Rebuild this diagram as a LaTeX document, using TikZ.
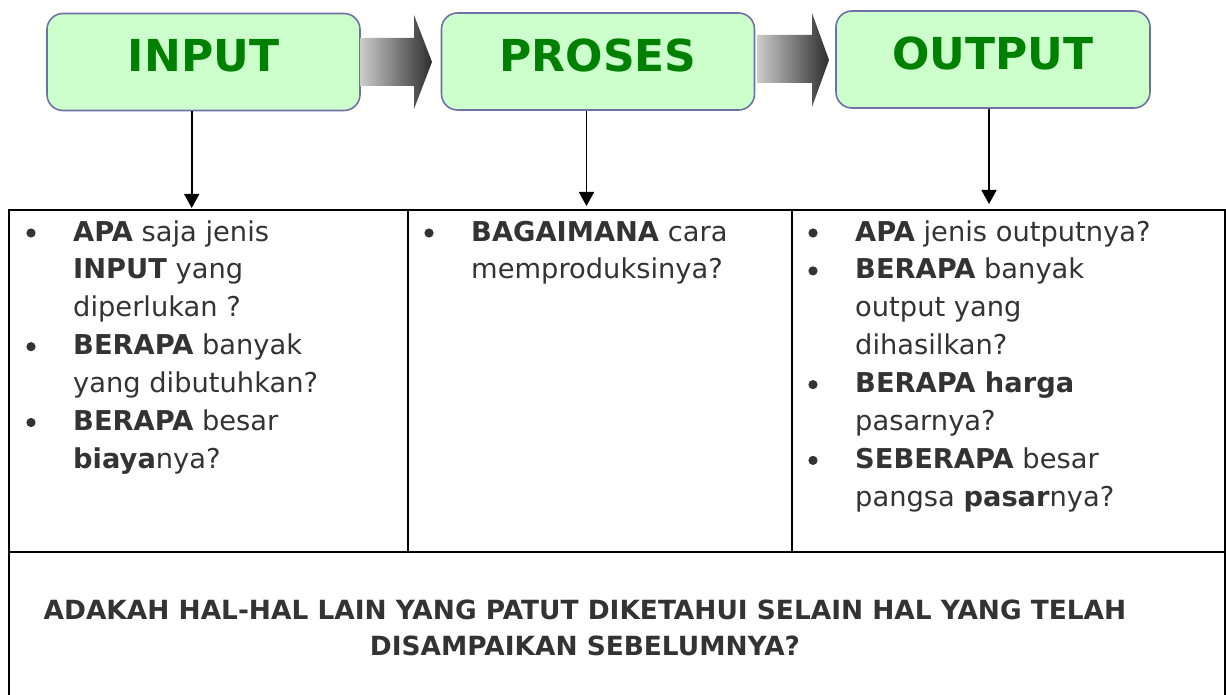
\documentclass[tikz,border=0pt]{standalone}
\usepackage{fontspec}
\setmainfont{DejaVu Sans}
\usetikzlibrary{arrows.meta}
\definecolor{boxfill}{HTML}{CCFFCC}
\definecolor{boxdraw}{HTML}{7070A8}
\definecolor{titlegreen}{HTML}{008000}
\definecolor{txt}{HTML}{333333}
\begin{document}
\begin{tikzpicture}[x=1pt,y=-1pt,
  stage/.style={draw=boxdraw, line width=1.6pt, fill=boxfill, rounded corners=16pt,
    minimum width=313pt, minimum height=97pt, inner sep=0pt},
  title/.style={font=\fontsize{44}{44}\selectfont\bfseries, text=titlegreen, anchor=base, inner sep=0pt},
  body/.style={font=\fontsize{27.3}{30}\selectfont, text=txt, anchor=base west, inner sep=0pt},
  closing/.style={font=\fontsize{26.4}{30}\selectfont\bfseries, text=txt, anchor=base, inner sep=0pt},
  flow/.style={left color=black!20, right color=black!82},
  vline/.style={line width=1.6pt, -{Triangle[width=15pt,length=14pt]}},
  tab/.style={line width=2.2pt},
  bul/.style={fill=txt}
]
\useasboundingbox (0,0) rectangle (1226,695);

% stage boxes
\node[stage] (input) at (203.5,62) {};
\node[stage] (proses) at (598,61.5) {};
\node[stage, minimum width=314pt] (output) at (993,59.5) {};
\node[title] (inputT) at (203.5,72) {INPUT};
\node[title] (prosesT) at (598,72) {PROSES};
\node[title] (outputT) at (993,70) {OUTPUT};

% gray block arrows
\shade[flow] (360,38) -- (414,38) -- (414,15) -- (432,62) -- (414,109) -- (414,86) -- (360,86) -- cycle;
\shade[flow] (757,35) -- (812,35) -- (812,13) -- (829,60) -- (812,107) -- (812,83) -- (757,83) -- cycle;

% table
\draw[tab] (9,700) -- (9,210) -- (1225,210) -- (1225,700);
\draw[tab] (9,552) -- (1225,552);
\draw[tab] (408,210) -- (408,552);
\draw[tab] (792,210) -- (792,552);

% vertical arrows
\coordinate (t1) at (191.7,208);
\coordinate (t2) at (586.5,206);
\coordinate (t3) at (989,204);
\draw[vline] (input.south -| t1) -- (t1);
\draw[vline] (proses.south -| t2) -- (t2);
\draw[vline] (output.south -| t3) -- (t3);

% left column
\foreach \t [count=\i] in {{\textbf{APA} saja jenis},{\textbf{INPUT} yang},{diperlukan ?},
  {\textbf{BERAPA} banyak},{yang dibutuhkan?},{\textbf{BERAPA} besar},{\textbf{biaya}nya?}}
  \node[body] (a\i) at (73,{241+37.9*(\i-1)}) {\t};
\foreach \k in {1,4,6}
  \fill[bul] (31,{233+37.9*(\k-1)}) circle (4.6pt);

% middle column
\node[body] (b1) at (471,241) {\textbf{BAGAIMANA} cara};
\node[body] (b2) at (471,278.9) {memproduksinya?};
\fill[bul] (429,233) circle (4.6pt);

% right column
\foreach \t [count=\i] in {{\textbf{APA} jenis outputnya?},{\textbf{BERAPA} banyak},{output yang},
  {dihasilkan?},{\textbf{BERAPA harga}},{pasarnya?},{\textbf{SEBERAPA} besar},{pangsa \textbf{pasar}nya?}}
  \node[body] (c\i) at (855,{241+37.9*(\i-1)}) {\t};
\foreach \k in {1,2,5,7}
  \fill[bul] (813,{233+37.9*(\k-1)}) circle (4.6pt);

% closing question
\node[closing] (q1) at (585,619.5) {ADAKAH HAL-HAL LAIN YANG PATUT DIKETAHUI SELAIN HAL YANG TELAH};
\node[closing] (q2) at (585,655) {DISAMPAIKAN SEBELUMNYA?};
\end{tikzpicture}
\end{document}
